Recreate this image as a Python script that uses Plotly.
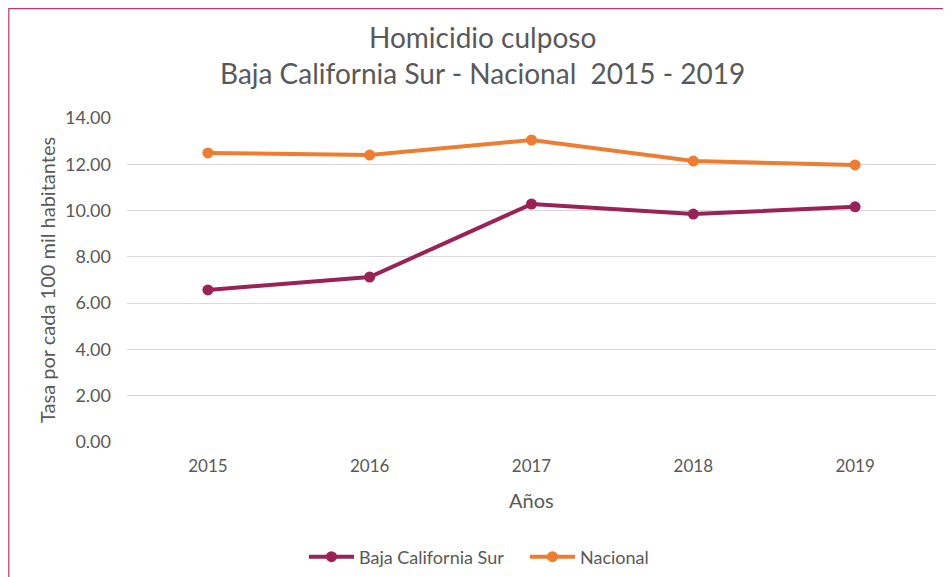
import plotly.graph_objects as go

# ─── data ───
years = ["2015", "2016", "2017", "2018", "2019"]
bcs = [6.57, 7.13, 10.28, 9.85, 10.16]
nacional = [12.49, 12.40, 13.05, 12.14, 11.97]

BCS_COLOR = "#9b2257"
NAC_COLOR = "#ed7d31"
TEXT_COLOR = "#595959"
FONT = "Lato, 'Open Sans', sans-serif"

fig = go.Figure()

fig.add_trace(go.Scatter(
    x=years, y=bcs, name="Baja California Sur", mode="lines+markers",
    line=dict(color=BCS_COLOR, width=4), marker=dict(size=11, color=BCS_COLOR),
))
fig.add_trace(go.Scatter(
    x=years, y=nacional, name="Nacional", mode="lines+markers",
    line=dict(color=NAC_COLOR, width=4), marker=dict(size=11, color=NAC_COLOR),
))

# outer chart frame (only left/top edges visible in the crop)
fig.add_shape(
    type="rect", xref="paper", yref="paper",
    x0=-0.1461, x1=2.0, y0=-2.0, y1=1.3377,
    line=dict(color="#b5396f", width=1.2), fillcolor="rgba(0,0,0,0)", layer="above",
)

# two-line title as annotations for exact placement
fig.add_annotation(text="Homicidio culposo", xref="paper", yref="paper",
                   x=0.44, y=1.25, xanchor="center", yanchor="middle", showarrow=False,
                   font=dict(size=28, color=TEXT_COLOR))
fig.add_annotation(text="Baja California Sur - Nacional  2015 - 2019", xref="paper", yref="paper",
                   x=0.44, y=1.139, xanchor="center", yanchor="middle", showarrow=False,
                   font=dict(size=28, color=TEXT_COLOR))

# axis titles
fig.add_annotation(text="Tasa por cada 100 mil habitantes", xref="paper", yref="paper",
                   x=-0.099, y=0.5, xanchor="center", yanchor="middle", textangle=-90,
                   showarrow=False, font=dict(size=20, color=TEXT_COLOR))
fig.add_annotation(text="Años", xref="paper", yref="paper",
                   x=0.5, y=-0.18, xanchor="center", yanchor="middle",
                   showarrow=False, font=dict(size=20, color=TEXT_COLOR))

fig.update_layout(
    xaxis=dict(
        tickfont=dict(size=17, color=TEXT_COLOR), automargin=False, range=[-0.5, 4.5],
        showgrid=False, showline=False, zeroline=False, ticks="", ticklabelstandoff=12,
    ),
    yaxis=dict(
        tickfont=dict(size=18, color=TEXT_COLOR), automargin=False,
        range=[0, 14], dtick=2, tickformat=".2f",
        showgrid=True, gridcolor="#d9d9d9", gridwidth=1.2,
        zeroline=False, showline=False, ticks="", ticklabelstandoff=15,
    ),
    legend=dict(
        orientation="h", x=0.2188, xanchor="left", y=-0.355, yanchor="middle",
        font=dict(size=18, color=TEXT_COLOR), itemwidth=45,
        entrywidth=161, entrywidthmode="pixels",
    ),
    font=dict(family=FONT, color=TEXT_COLOR),
    plot_bgcolor="white",
    paper_bgcolor="white",
    margin=dict(l=119, r=15, t=110, b=135, autoexpand=False),
    width=943,
    height=569,
)

fig.write_html("out.html")
